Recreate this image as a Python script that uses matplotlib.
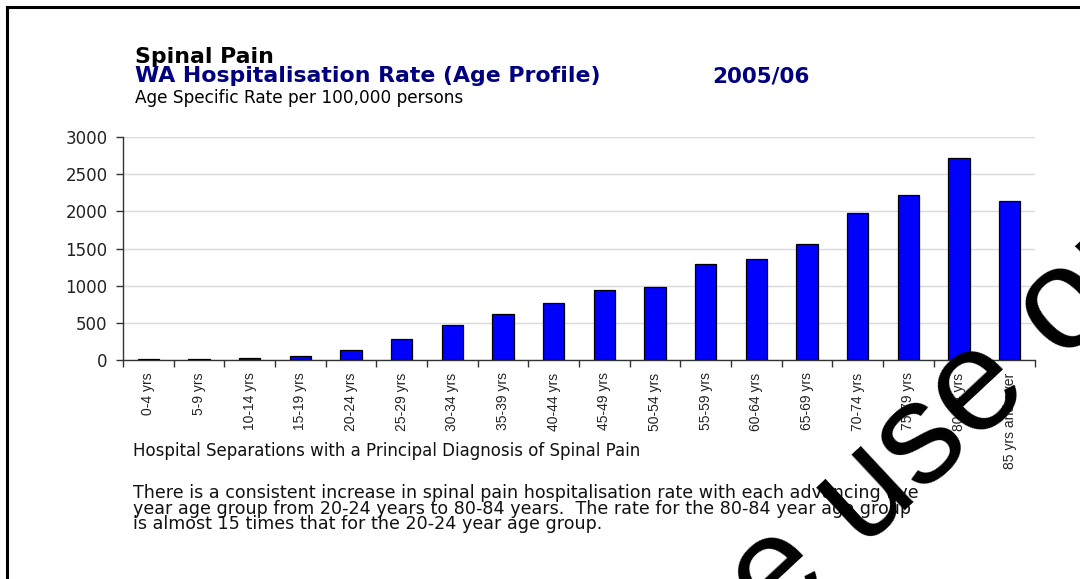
import numpy as np
import matplotlib
matplotlib.use("Agg")
import matplotlib.pyplot as plt
from matplotlib.lines import Line2D

# Data
age_groups = ["0-4 yrs", "5-9 yrs", "10-14 yrs", "15-19 yrs", "20-24 yrs", "25-29 yrs",
              "30-34 yrs", "35-39 yrs", "40-44 yrs", "45-49 yrs", "50-54 yrs", "55-59 yrs",
              "60-64 yrs", "65-69 yrs", "70-74 yrs", "75-79 yrs", "80-84 yrs", "85 yrs and over"]
rates = [10, 10, 22, 58, 139, 287, 467, 615, 768, 943, 979, 1298,
         1356, 1563, 1976, 2218, 2717, 2133]
y_ticks = [0, 500, 1000, 1500, 2000, 2500, 3000]

title_top = "Spinal Pain"
title_main = "WA Hospitalisation Rate (Age Profile)"
title_year = "2005/06"
subtitle = "Age Specific Rate per 100,000 persons"
footnote = "Hospital Separations with a Principal Diagnosis of Spinal Pain"
comment = ("There is a consistent increase in spinal pain hospitalisation rate with each advancing five\n"
           "year age group from 20-24 years to 80-84 years.  The rate for the 80-84 year age group\n"
           "is almost 15 times that for the 20-24 year age group.")
watermark = "Reference use only"

W, H = 1080, 579
fig = plt.figure(figsize=(W / 100, H / 100), dpi=100)
fig.patch.set_facecolor("white")


def px(x, y):
    # pixel position (from top-left) -> figure fraction
    return x / W, 1 - y / H


# Frame lines (top and left)
fig.add_artist(Line2D([6.5 / W, 1.0], [1 - 6.5 / H, 1 - 6.5 / H], color="black", lw=2.2,
                      transform=fig.transFigure))
fig.add_artist(Line2D([6.5 / W, 6.5 / W], [0.0, 1 - 6.5 / H], color="black", lw=2.2,
                      transform=fig.transFigure))

# Chart area
ax = fig.add_axes([123 / W, 1 - 360 / H, 912 / W, 223 / H])
x = np.arange(len(age_groups))
ax.bar(x, rates, width=0.42, color="#0000ff", edgecolor="black", linewidth=0.9, zorder=3)

ax.set_xlim(-0.5, len(age_groups) - 0.5)
ax.set_ylim(0, 3000)
ax.set_yticks(y_ticks)
ax.set_yticklabels([str(v) for v in y_ticks], family="DejaVu Sans", fontsize=12, color="#222222")
ax.yaxis.grid(True, color="#d9d9d9", linewidth=1, zorder=0)
ax.set_axisbelow(True)

ax.set_xticks(x)
ax.set_xticklabels(age_groups, rotation=90, ha="center", va="top",
                   family=["Liberation Sans Narrow", "Liberation Sans"], fontsize=10,
                   color="#222222")
ax.set_xticks(np.arange(-0.5, len(age_groups)), minor=True)
ax.tick_params(axis="x", which="major", length=0, pad=9)
ax.tick_params(axis="x", which="minor", length=5, width=1, color="#333333", direction="out")
ax.tick_params(axis="y", length=5, width=1, color="#333333", pad=6)

for side in ["top", "right"]:
    ax.spines[side].set_visible(False)
for side in ["left", "bottom"]:
    ax.spines[side].set_color("#333333")
    ax.spines[side].set_linewidth(1)

# Titles
fig.text(*px(135, 63), title_top, family="DejaVu Sans", fontweight="bold", fontsize=15.8,
         color="black", va="baseline")
fig.text(*px(135, 82), title_main, family="DejaVu Sans", fontweight="bold", fontsize=15.8,
         color="#000080", va="baseline")
fig.text(*px(712, 82), title_year, family="DejaVu Sans", fontweight="bold", fontsize=15.5,
         color="#000080", va="baseline")
fig.text(*px(135, 103), subtitle, family="DejaVu Sans", fontsize=12.2, color="black",
         va="baseline")

# Notes below the chart
fig.text(*px(133, 456), footnote, family="DejaVu Sans", fontsize=12, color="#111111",
         va="baseline")
fig.text(*px(133, 484), comment, family="DejaVu Sans", fontsize=12.6, color="#111111",
         va="top", linespacing=0.83)

# Watermark
fig.text(346 / W, (H - 1032) / H, watermark, family="Liberation Sans", fontsize=104,
         color="black", rotation=43, rotation_mode="anchor", ha="left", va="baseline",
         zorder=10)

fig.savefig("out.png", dpi=100, facecolor="white")
